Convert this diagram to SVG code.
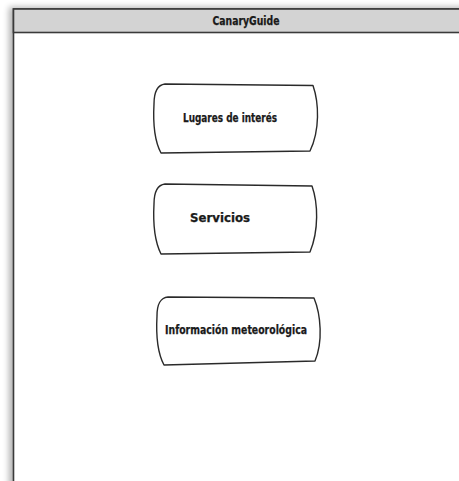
<svg xmlns="http://www.w3.org/2000/svg" width="459" height="481" viewBox="0 0 459 481">
  <defs>
    <filter id="shadow" x="-10%" y="-10%" width="120%" height="120%">
      <feGaussianBlur stdDeviation="3"/>
    </filter>
  </defs>
  <style>
    .frame { fill: #ffffff; stroke: #3a3a3a; stroke-width: 1.6; }
    .titlebar { fill: #d3d3d3; stroke: #3a3a3a; stroke-width: 1.6; }
    .card { fill: #ffffff; stroke: #2a2a2a; stroke-width: 1.4; stroke-linejoin: round; }
    .label { font-family: "DejaVu Sans Condensed", "DejaVu Sans", sans-serif; font-weight: bold; font-size: 12px; fill: #1a1a1a; stroke: #1a1a1a; stroke-width: 0.25; text-anchor: middle; }
  </style>

  <!-- application window -->
  <g id="window">
    <rect x="9" y="7" width="460" height="480" fill="#000" opacity="0.3" filter="url(#shadow)"/>
    <rect class="frame" x="13.5" y="9" width="460" height="480"/>
    <rect class="titlebar" x="13.5" y="9" width="460" height="23.5"/>
    <text class="label" x="246" y="25" textLength="67" lengthAdjust="spacingAndGlyphs">CanaryGuide</text>
  </g>

  <!-- menu buttons -->
  <g id="node-lugares">
    <path class="card" d="M165,84 L313,85.5 C319,103 320,130 310,151 L161,153 C154,140 153,122 154,104 C154,92 157,85 165,84 Z"/>
    <text class="label" x="230" y="122" textLength="94" lengthAdjust="spacingAndGlyphs">Lugares de interés</text>
  </g>

  <g id="node-servicios">
    <path class="card" d="M165,184 L312,186 C318,203 319,230 310,252 L161,254 C154,240 153,222 154,204 C154,192 157,185 165,184 Z"/>
    <text class="label" x="220" y="222" textLength="60" lengthAdjust="spacingAndGlyphs">Servicios</text>
  </g>

  <g id="node-meteo">
    <path class="card" d="M168,297 L314,298 C321,315 323,342 315,361 L164,365 C157,352 156,334 157,316 C157,304 160,298 168,297 Z"/>
    <text class="label" x="236" y="334" textLength="142" lengthAdjust="spacingAndGlyphs">Información meteorológica</text>
  </g>

  <g id="connectors"/>
</svg>
